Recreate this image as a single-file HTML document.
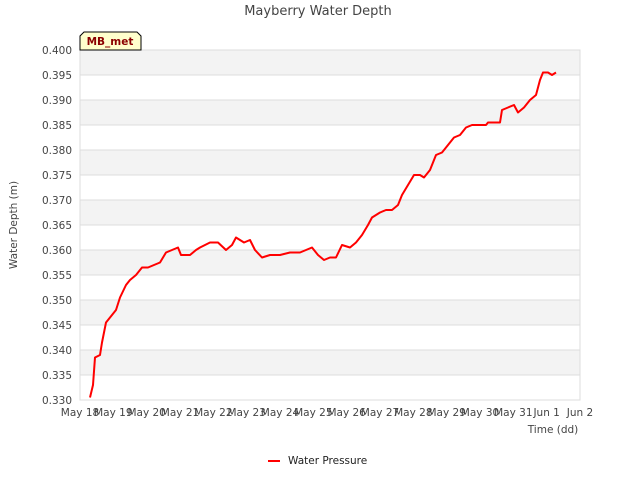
<!DOCTYPE html>
<html><head><meta charset="utf-8"><style>
body{margin:0;background:#fff;font-family:"Liberation Sans","DejaVu Sans",sans-serif}
</style></head><body>
<svg width="640" height="480" xmlns="http://www.w3.org/2000/svg" style="font-family:'DejaVu Sans','Liberation Sans',sans-serif">
<text x="318" y="15" text-anchor="middle" font-size="13" fill="#444">Mayberry Water Depth</text>
<g id="bands"></g>
<g id="grid"></g>
<rect x="80" y="50" width="500" height="350" fill="none" stroke="#ddd"/>
<g id="yt" font-size="10.5" fill="#444" text-anchor="end"></g>
<g id="xt" font-size="10.5" fill="#444" text-anchor="middle"></g>
<text x="17" y="225" font-size="10.5" fill="#444" text-anchor="middle" transform="rotate(-90 17 225)">Water Depth (m)</text>
<text x="553" y="433" font-size="10.5" fill="#444" text-anchor="middle">Time (dd)</text>
<path id="series" fill="none" stroke="#ff0000" stroke-width="2" stroke-linejoin="round"/>
<g>
<path d="M84,32 L137,32 L141,36 L141,50 L80,50 L80,36 Z" fill="#ffffcc" stroke="#000" stroke-width="1"/>
<text x="110" y="45" font-size="10.5" font-weight="bold" fill="#8b0000" text-anchor="middle">MB_met</text>
</g>
<g>
<line x1="268" y1="461" x2="280" y2="461" stroke="#ff0000" stroke-width="2"/>
<text x="288" y="464" font-size="10.5" fill="#222">Water Pressure</text>
</g>
</svg>
<script>
const days=[0.30,0.39,0.45,0.60,0.66,0.78,0.96,1.08,1.20,1.38,1.50,1.68,1.86,2.04,2.22,2.40,2.58,2.76,2.94,3.03,3.30,3.48,3.60,3.90,4.14,4.38,4.56,4.68,4.92,5.10,5.25,5.46,5.70,6.00,6.30,6.60,6.96,7.14,7.32,7.50,7.68,7.86,8.10,8.28,8.46,8.64,8.76,9.00,9.18,9.36,9.54,9.66,9.84,10.02,10.20,10.32,10.50,10.68,10.86,11.04,11.22,11.40,11.58,11.76,12.18,12.24,12.60,12.66,12.84,13.02,13.14,13.32,13.50,13.68,13.80,13.89,14.04,14.16,14.28];
const depth=[0.3305,0.333,0.3385,0.339,0.3415,0.3455,0.347,0.348,0.3505,0.353,0.354,0.355,0.3565,0.3565,0.357,0.3575,0.3595,0.360,0.3605,0.359,0.359,0.360,0.3605,0.3615,0.3615,0.360,0.361,0.3625,0.3615,0.362,0.360,0.3585,0.359,0.359,0.3595,0.3595,0.3605,0.359,0.358,0.3585,0.3585,0.361,0.3605,0.3615,0.363,0.365,0.3665,0.3675,0.368,0.368,0.369,0.371,0.373,0.375,0.375,0.3745,0.376,0.379,0.3795,0.381,0.3825,0.383,0.3845,0.385,0.385,0.3855,0.3855,0.388,0.3885,0.389,0.3875,0.3885,0.390,0.391,0.394,0.3955,0.3955,0.395,0.3955];
const yTicks=[0.330,0.335,0.340,0.345,0.350,0.355,0.360,0.365,0.370,0.375,0.380,0.385,0.390,0.395,0.400];
const xLabels=["May 18","May 19","May 20","May 21","May 22","May 23","May 24","May 25","May 26","May 27","May 28","May 29","May 30","May 31","Jun 1","Jun 2"];
const X=d=>80+d*500/15, Y=v=>400-(v-0.330)*350/0.07;
const NS="http://www.w3.org/2000/svg";
const bands=document.getElementById('bands'),grid=document.getElementById('grid'),yt=document.getElementById('yt'),xt=document.getElementById('xt');
for(let i=0;i<yTicks.length-1;i++){if(i%2===1){const r=document.createElementNS(NS,'rect');
r.setAttribute('x',80);r.setAttribute('y',Y(yTicks[i+1]));r.setAttribute('width',500);r.setAttribute('height',Y(yTicks[i])-Y(yTicks[i+1]));r.setAttribute('fill','#f3f3f3');


bands.appendChild(r);}}
yTicks.forEach(v=>{const l=document.createElementNS(NS,'line');l.setAttribute('x1',80);l.setAttribute('x2',580);l.setAttribute('y1',Y(v));l.setAttribute('y2',Y(v));l.setAttribute('stroke','#ddd');


grid.appendChild(l);
const t=document.createElementNS(NS,'text');t.setAttribute('x',72);t.setAttribute('y',Y(v)+4);t.textContent=v.toFixed(3);


yt.appendChild(t);});
xLabels.forEach((s,i)=>{const t=document.createElementNS(NS,'text');t.setAttribute('x',X(i));t.setAttribute('y',416);t.textContent=s;


xt.appendChild(t);});
document.getElementById('series').setAttribute('d',days.map((d,i)=>(i?'L':'M')+X(d).toFixed(1)+','+Y(depth[i]).toFixed(1)).join(' '));
</script>
</body></html>
